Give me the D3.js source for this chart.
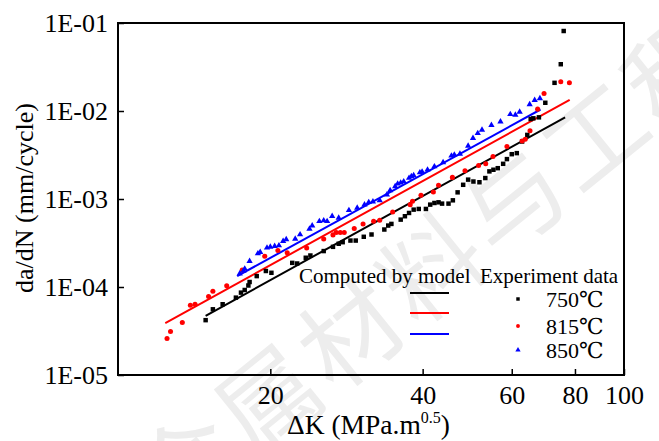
<!DOCTYPE html>
<html>
<head>
<meta charset="utf-8">
<script src="https://cdn.jsdelivr.net/npm/d3@7"></script>
<style>
  body { margin: 0; background: #fff; }
  text { font-family: "Liberation Serif", "DejaVu Serif", serif; }
  text.wm { font-family: "Noto Sans CJK SC", sans-serif; }
</style>
</head>
<body>
<script>
// experiment data (ΔK in MPa.m^0.5, da/dN in mm/cycle)
const k750 = [14.9,15.4,16.1,17.1,17.5,17.8,18.1,18.2,18.8,19.6,20.1,22.1,22.6,23.5,24.0,25.5,26.6,27.3,27.8,28.8,29.5,30.6,31.7,33.6,34.2,34.7,36.2,36.9,37.6,38.4,39.3,40.6,41.4,42.2,43.0,43.7,45.0,45.9,46.9,48.1,49.2,50.4,51.8,53.2,54.2,55.2,56.3,57.7,58.7,60.0,61.4,62.9,64.4,65.4,66.2,67.9,69.9,72.9,75.0,76.0];
const r750 = [4.20e-5,5.58e-5,6.37e-5,7.57e-5,8.63e-5,9.25e-5,1.04e-4,1.14e-4,1.33e-4,1.52e-4,1.45e-4,1.88e-4,1.85e-4,2.15e-4,2.28e-4,2.56e-4,2.86e-4,3.10e-4,3.23e-4,3.37e-4,3.37e-4,3.72e-4,3.95e-4,4.50e-4,4.99e-4,5.21e-4,5.83e-4,6.37e-4,6.94e-4,7.57e-4,7.71e-4,7.71e-4,8.63e-4,9.01e-4,9.17e-4,8.86e-4,8.86e-4,9.66e-4,1.19e-3,1.45e-3,1.66e-3,1.58e-3,1.55e-3,1.73e-3,2.06e-3,2.15e-3,2.24e-3,2.51e-3,2.84e-3,3.23e-3,3.32e-3,4.50e-3,5.35e-3,8.11e-3,8.26e-3,8.47e-3,1.24e-2,2.09e-2,3.40e-2,8.11e-2];

const k815 = [12.5,12.7,13.4,13.9,14.2,15.1,15.4,16.4,17.6,19.5,20.7,21.6,23.6,25.5,26.6,27.0,27.5,28.0,29.3,30.5,32.0,32.9,34.9,37.8,38.2,39.7,42.0,43.0,45.8,48.5,51.6,53.3,55.1,58.7,62.9,63.8,65.2,67.5,69.5,75.0,78.0];
const r815 = [2.60e-5,3.12e-5,3.95e-5,6.20e-5,6.37e-5,7.78e-5,8.93e-5,1.03e-4,1.56e-4,2.24e-4,2.60e-4,2.45e-4,2.77e-4,3.52e-4,3.91e-4,4.16e-4,4.16e-4,4.16e-4,4.61e-4,5.21e-4,5.58e-4,5.73e-4,7.13e-4,8.63e-4,9.42e-4,1.10e-3,1.20e-3,1.43e-3,1.76e-3,2.09e-3,2.40e-3,2.51e-3,3.04e-3,3.95e-3,4.57e-3,4.78e-3,5.98e-3,1.05e-2,1.58e-2,2.15e-2,2.09e-2];

const k850 = [17.4,17.7,17.8,18.2,18.9,19.1,19.7,20.0,20.4,20.8,21.2,21.5,22.4,22.9,23.9,24.2,25.0,25.5,25.9,26.5,27.3,28.6,29.7,30.7,31.3,31.9,32.9,34.0,34.5,35.3,35.7,36.2,36.7,37.6,38.0,38.4,39.5,39.9,40.9,42.2,43.9,45.6,46.2,47.4,49.2,50.3,51.4,52.4,54.7,57.0,59.6,61.0,62.2,65.1,66.6,68.2];
const r850 = [1.42e-4,1.52e-4,1.61e-4,1.97e-4,2.40e-4,2.49e-4,2.79e-4,2.86e-4,2.91e-4,2.96e-4,3.32e-4,3.47e-4,3.52e-4,3.95e-4,4.57e-4,4.99e-4,5.58e-4,5.69e-4,5.58e-4,6.37e-4,6.10e-4,7.45e-4,7.91e-4,8.63e-4,9.17e-4,9.33e-4,9.66e-4,1.12e-3,1.25e-3,1.39e-3,1.49e-3,1.53e-3,1.58e-3,1.73e-3,1.81e-3,1.85e-3,2.00e-3,2.04e-3,2.15e-3,2.34e-3,2.60e-3,3.10e-3,3.18e-3,3.26e-3,4.02e-3,4.91e-3,5.58e-3,6.10e-3,6.89e-3,7.57e-3,9.17e-3,9.01e-3,9.75e-3,1.19e-2,1.33e-2,1.39e-2];

// model lines (straight in log-log), start and end points
const model750K = [14.9, 76.5], model750R = [4.70e-5, 8.47e-3];
const model815K = [12.4, 78.1], model815R = [3.88e-5, 1.34e-2];
const model850K = [17.2, 68.4], model850R = [1.33e-4, 1.04e-2];

const temps = ["750\u2103", "815\u2103", "850\u2103"];
const colors = ["#000000", "#ff0000", "#0000ff"];
const xTicks = [20, 40, 60, 80, 100];
const yTicks = [1e-5, 1e-4, 1e-3, 1e-2, 1e-1];
const watermark = "金属材料与工程";

const width = 659, height = 441;
const margin = {top: 23, right: 35, bottom: 66, left: 118};
const serif = "'Liberation Serif', 'DejaVu Serif', serif";

const x = d3.scaleLog([10, 100], [margin.left, width - margin.right]);
const y = d3.scaleLog([1e-5, 1e-1], [height - margin.bottom, margin.top]);

const svg = d3.create("svg")
    .attr("width", width)
    .attr("height", height)
    .attr("viewBox", [0, 0, width, height]);

svg.append("rect").attr("width", width).attr("height", height).attr("fill", "#fff");

// faint watermark running diagonally
const wm = svg.append("g").attr("fill", "#ededed").attr("font-size", 100);
watermark.split("").forEach((ch, i) => {
  wm.append("text")
      .attr("class", "wm")
      .attr("transform", `translate(${183 + i * 81.6},${461 - i * 66}) rotate(-39)`)
      .attr("text-anchor", "middle")
      .attr("dominant-baseline", "central")
      .text(ch);
});

// axes with inward ticks
svg.append("g")
    .attr("transform", `translate(0,${height - margin.bottom})`)
    .call(d3.axisBottom(x).tickValues(xTicks).tickSize(-6).tickPadding(11).tickFormat(d3.format("d")))
    .call(g => g.select(".domain").remove())
    .call(g => g.selectAll("line").attr("stroke-width", 1.5))
    .call(g => g.selectAll("text").attr("font-size", 26).attr("fill", "#000").style("font-family", serif));

svg.append("g")
    .attr("transform", `translate(${margin.left},0)`)
    .call(d3.axisLeft(y).tickValues(yTicks).tickSize(-6).tickPadding(10)
        .tickFormat(d => `1E-${String(Math.round(-Math.log10(d))).padStart(2, "0")}`))
    .call(g => g.select(".domain").remove())
    .call(g => g.selectAll("line").attr("stroke-width", 1.5))
    .call(g => g.selectAll("text").attr("font-size", 26).attr("fill", "#000").style("font-family", serif));

// frame
svg.append("rect")
    .attr("x", margin.left).attr("y", margin.top)
    .attr("width", width - margin.right - margin.left)
    .attr("height", height - margin.bottom - margin.top)
    .attr("fill", "none").attr("stroke", "#000").attr("stroke-width", 2);

// axis titles
const xt = svg.append("text")
    .attr("x", 287).attr("y", 434)
    .attr("font-size", 27.5);
xt.append("tspan").text("\u0394K (MPa.m");
xt.append("tspan").attr("font-size", 16).attr("dy", -11).text("0.5");
xt.append("tspan").attr("dy", 11).text(")");

svg.append("text")
    .attr("transform", `translate(33,${198}) rotate(-90)`)
    .attr("text-anchor", "middle")
    .attr("font-size", 26)
    .text("da/dN (mm/cycle)");

// model lines
const line = d3.line().x(d => x(d[0])).y(d => y(d[1]));
const models = [[model750K, model750R], [model815K, model815R], [model850K, model850R]];
svg.append("g")
  .selectAll("path")
  .data(models)
  .join("path")
    .attr("fill", "none")
    .attr("stroke", (d, i) => colors[i])
    .attr("stroke-width", 2)
    .attr("d", ([ks, rs]) => line(d3.zip(ks, rs)));

// experiment points
const symbols = [d3.symbolSquare, d3.symbolCircle, d3.symbolTriangle];
const sizes = [20, 20, 17];
const series = [d3.zip(k750, r750), d3.zip(k815, r815), d3.zip(k850, r850)];
series.forEach((pts, i) => {
  svg.append("g")
      .attr("fill", colors[i])
    .selectAll("path")
    .data(pts)
    .join("path")
      .attr("transform", d => `translate(${x(d[0])},${y(d[1])})`)
      .attr("d", d3.symbol(symbols[i], sizes[i]));
});

// legend
const legend = svg.append("g").attr("font-size", 21);
legend.append("text").attr("x", 299).attr("y", 283).text("Computed by model");
legend.append("text").attr("x", 480).attr("y", 283).text("Experiment data");
const lineY = [293, 313, 334];
const markY = [299, 326, 350];
temps.forEach((t, i) => {
  legend.append("line")
      .attr("x1", 410).attr("x2", 449)
      .attr("y1", lineY[i]).attr("y2", lineY[i])
      .attr("stroke", colors[i]).attr("stroke-width", 2);
  legend.append("path")
      .attr("transform", `translate(518,${markY[i]})`)
      .attr("fill", colors[i])
      .attr("d", d3.symbol(symbols[i], 12));
  legend.append("text")
      .attr("x", 546).attr("y", markY[i] + 8)
      .attr("font-size", 22)
      .text(t);
});

document.body.append(svg.node());
</script>
</body>
</html>
